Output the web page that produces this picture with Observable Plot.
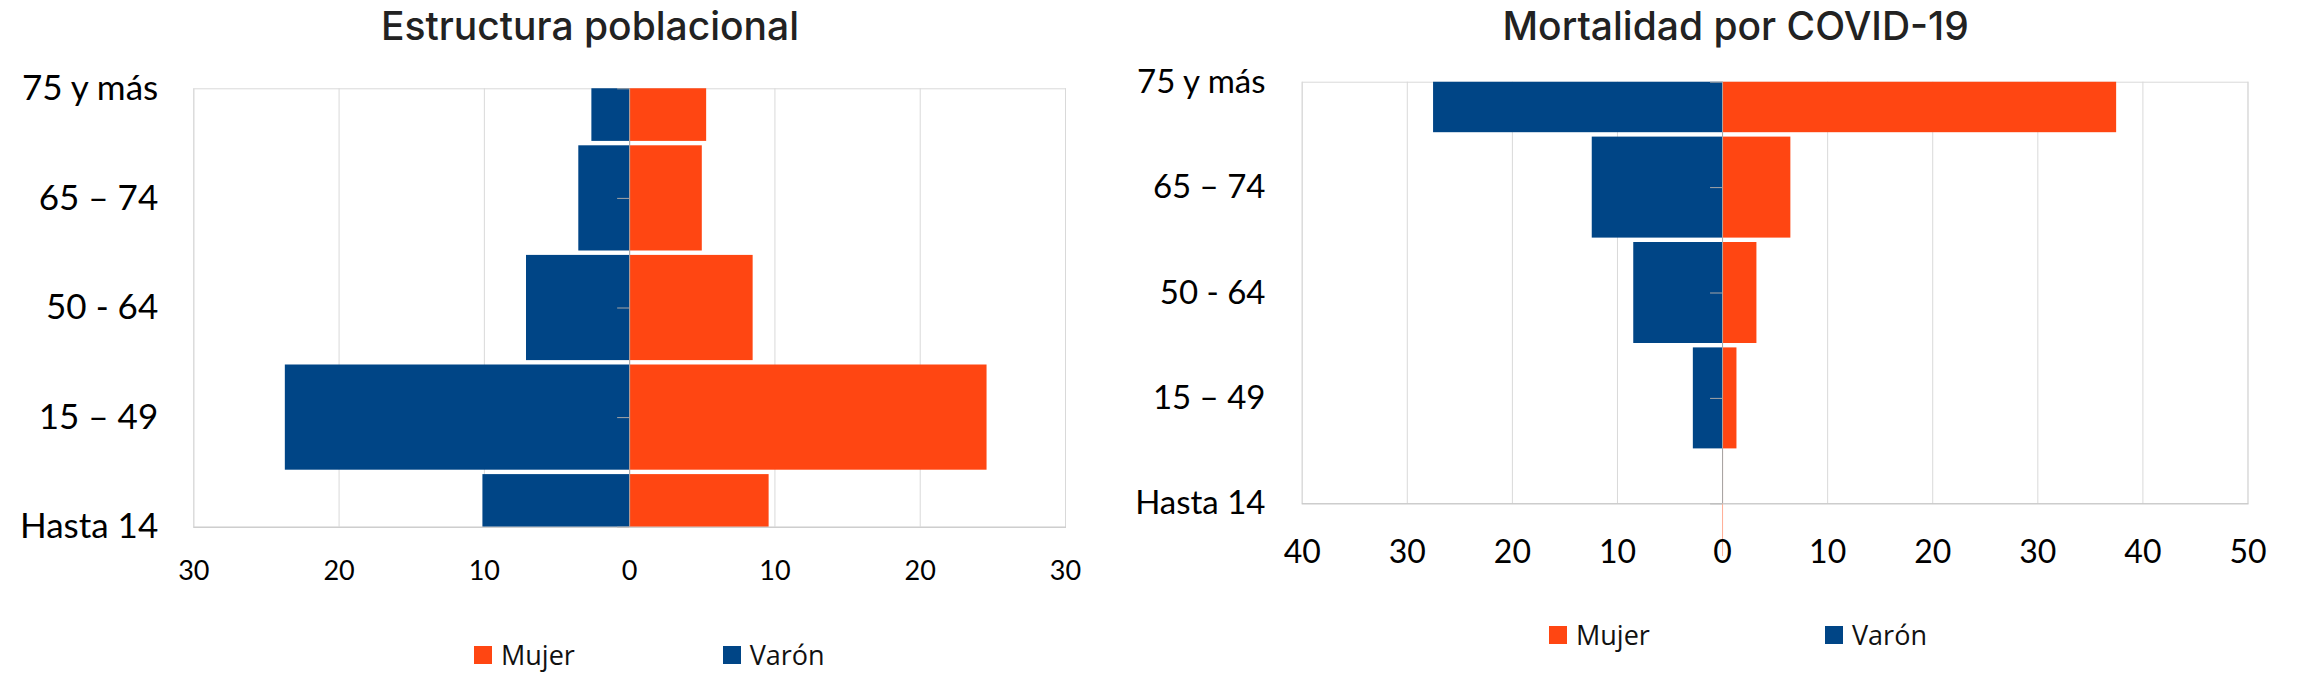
<!DOCTYPE html>
<html>
<head>
<meta charset="utf-8">
<script src="https://cdn.jsdelivr.net/npm/d3@7"></script>
<script src="https://cdn.jsdelivr.net/npm/@observablehq/plot@0.6"></script>
<style>
  html, body { margin: 0; padding: 0; background: #fff; }
  #root { position: relative; width: 2298px; height: 692px; overflow: hidden; background: #fff; }
  .panel { position: absolute; top: 0; height: 692px; }
  .title { position: absolute; font-family: Inter, "Open Sans", sans-serif; font-weight: 500; color: #222; white-space: nowrap; transform: translateX(-50%); line-height: 1; }
  .chart { position: absolute; }
  .legend-item { position: absolute; display: flex; align-items: center; font-family: "Open Sans", sans-serif; color: #111; line-height: 1; white-space: nowrap; }
  .sw { width: 18px; height: 18px; margin-right: 9px; }
</style>
</head>
<body>
<div id="root"></div>
<script>
// ---- data (categories bottom → top) ----
const ageGroups = ["Hasta 14", "15 – 49", "50 - 64", "65 – 74", "75 y más"];
const poblacionMujer = [9.6, 24.6, 8.5, 5.0, 5.3];
const poblacionVaron = [10.1, 23.7, 7.1, 3.5, 2.6];
const mortalidadMujer = [0, 1.37, 3.27, 6.5, 37.5];
const mortalidadVaron = [0, 2.78, 8.45, 12.4, 27.5];
const poblacionTicks = [-30, -20, -10, 0, 10, 20, 30];
const mortalidadTicks = [-40, -30, -20, -10, 0, 10, 20, 30, 40, 50];
const seriesNames = ["Mujer", "Varón"];
const seriesColors = ["#FF4612", "#004586"];

const root = document.getElementById("root");

function makeChart(cfg) {
  const rows = ageGroups.map((g, i) => ({i, group: g, mujer: cfg.mujer[i], varon: cfg.varon[i]}));
  const idx = rows.map(d => d.i);
  const plot = Plot.plot({
    width: cfg.width,
    height: cfg.height,
    marginLeft: cfg.ml, marginRight: cfg.mr, marginTop: cfg.mt, marginBottom: cfg.mb,
    style: {fontFamily: "Lato, sans-serif", color: "#000", background: "transparent"},
    x: {domain: [cfg.ticks[0], cfg.ticks[cfg.ticks.length - 1]]},
    y: {domain: [0, ageGroups.length - 1]},
    marks: [
      Plot.gridX(cfg.ticks, {stroke: "#d9d9d9", strokeOpacity: 1}),
      Plot.frame({stroke: "#d9d9d9"}),
      Plot.rect(rows, {x1: 0, x2: d => -d.varon, y1: d => d.i - 0.5, y2: d => d.i + 0.5,
        fill: seriesColors[1], insetTop: 2.2, insetBottom: 2.2, clip: true}),
      Plot.rect(rows, {x1: 0, x2: d => d.mujer, y1: d => d.i - 0.5, y2: d => d.i + 0.5,
        fill: seriesColors[0], insetTop: 2.2, insetBottom: 2.2, clip: true}),
      Plot.ruleX(rows.filter(d => d.mujer === 0), {x: 0, y1: d => d.i - 0.5, y2: d => d.i + 0.5,
        stroke: seriesColors[0], strokeOpacity: 0.45}),
      Plot.ruleX([0], {stroke: "#a6a6a6"}),
      Plot.ruleY(idx, {y: d => d, x1: 0, x2: 0, insetLeft: -12, stroke: "#a6a6a6"}),
      Plot.frame({anchor: "bottom", stroke: "#c4c4c4"}),
      Plot.axisY({ticks: idx, tickFormat: i => ageGroups[i], tickSize: 0, tickPadding: cfg.yPad,
        fontSize: cfg.yFont, label: null}),
      Plot.axisX({ticks: cfg.ticks, tickFormat: d => Math.abs(d), tickSize: 0, tickPadding: cfg.xPad,
        fontSize: cfg.xFont, label: null})
    ]
  });
  const panel = document.createElement("div");
  panel.className = "panel";
  panel.style.left = cfg.left + "px";
  panel.style.width = cfg.width + "px";

  const t = document.createElement("div");
  t.className = "title";
  t.textContent = cfg.title;
  t.style.left = cfg.titleX + "px";
  t.style.top = cfg.titleY + "px";
  t.style.fontSize = cfg.titleFont + "px";
  panel.appendChild(t);

  const c = document.createElement("div");
  c.className = "chart";
  c.style.left = "0px";
  c.style.top = cfg.top + "px";
  c.appendChild(plot);
  panel.appendChild(c);

  seriesNames.forEach((name, k) => {
    const item = document.createElement("div");
    item.className = "legend-item";
    item.style.left = cfg.legendX[k] + "px";
    item.style.top = cfg.legendY + "px";
    item.style.fontSize = cfg.legendFont + "px";
    const sw = document.createElement("span");
    sw.className = "sw";
    sw.style.background = seriesColors[k];
    item.appendChild(sw);
    const tx = document.createElement("span");
    tx.textContent = name;
    item.appendChild(tx);
    panel.appendChild(item);
  });
  root.appendChild(panel);
}

makeChart({
  title: "Estructura poblacional",
  left: 0, width: 1100, top: 60, height: 560,
  ml: 193.3, mr: 35, mt: 28.3, mb: 93.3,
  mujer: poblacionMujer, varon: poblacionVaron, ticks: poblacionTicks,
  yFont: 35, xFont: 27, yPad: 35.6, xPad: 33.6,
  titleX: 590, titleY: 6, titleFont: 39,
  legendX: [474, 722.7], legendY: 641, legendFont: 27
});

makeChart({
  title: "Mortalidad por COVID-19",
  left: 1100, width: 1198, top: 60, height: 560,
  ml: 201.7, mr: 50.5, mt: 21.7, mb: 116.7,
  mujer: mortalidadMujer, varon: mortalidadVaron, ticks: mortalidadTicks,
  yFont: 33, xFont: 32, yPad: 36.7, xPad: 36.9,
  titleX: 635.7, titleY: 6, titleFont: 39,
  legendX: [449, 725], legendY: 621, legendFont: 27
});
</script>
</body>
</html>
